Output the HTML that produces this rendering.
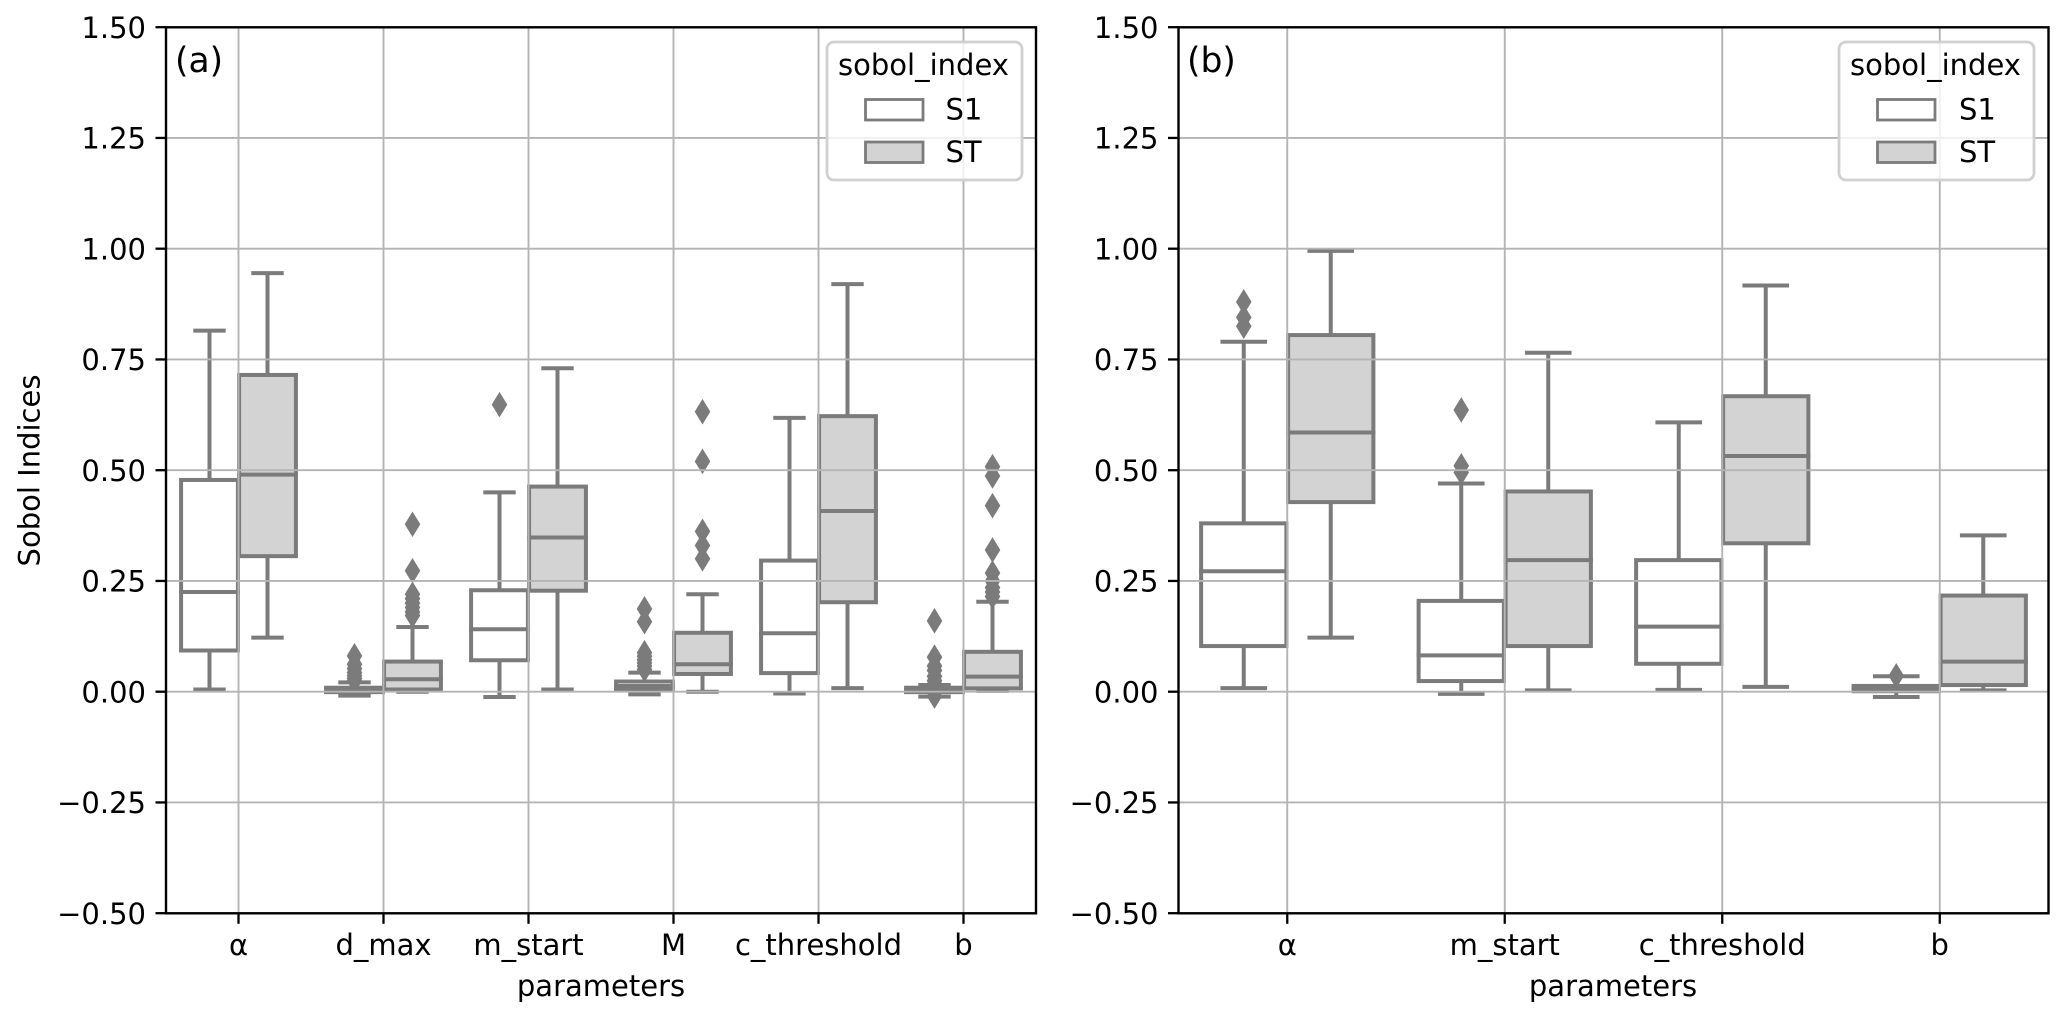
<!DOCTYPE html>
<html lang="en">
<head>
<meta charset="utf-8">
<title>Sobol Indices Box Plots</title>
<style>
html,body{margin:0;padding:0;background:#fff;width:2067px;height:1020px;overflow:hidden}
svg{display:block;font-family:"DejaVu Sans","Liberation Sans",sans-serif;fill:#000}
text{font-size:29px}
</style>
</head>
<body>
<svg id="figure" width="2067" height="1020" viewBox="0 0 2067 1020" xmlns="http://www.w3.org/2000/svg">
  <rect width="2067" height="1020" fill="#fff"/>
  <g id="panel-a"></g>
  <g id="panel-b"></g>

  <text transform="translate(39.5 470.5) rotate(-90)" text-anchor="middle">Sobol Indices</text>
  <text x="601" y="996" text-anchor="middle">parameters</text>
  <text x="1613" y="996" text-anchor="middle">parameters</text>
  <text x="175" y="72" style="font-size:34.5px">(a)</text>
  <text x="1187" y="72" style="font-size:34.5px">(b)</text>

  <g>
    <rect x="827" y="42" width="195" height="138" rx="7" fill="#fff" fill-opacity="0.8" stroke="#d0d0d0" stroke-width="2.8"/>
    <text x="923.5" y="75" text-anchor="middle">sobol_index</text>
    <rect x="865.5" y="99.5" width="57.5" height="20.5" fill="#fff" stroke="#7b7b7b" stroke-width="2.8"/>
    <text x="945.5" y="119.5">S1</text>
    <rect x="865.5" y="142" width="57.5" height="20.5" fill="#d3d3d3" stroke="#7b7b7b" stroke-width="2.8"/>
    <text x="945.5" y="162">ST</text>
  </g>
  <g>
    <rect x="1839" y="42" width="195" height="138" rx="7" fill="#fff" fill-opacity="0.8" stroke="#d0d0d0" stroke-width="2.8"/>
    <text x="1935.5" y="75" text-anchor="middle">sobol_index</text>
    <rect x="1877.5" y="99.5" width="57.5" height="20.5" fill="#fff" stroke="#7b7b7b" stroke-width="2.8"/>
    <text x="1959" y="119.5">S1</text>
    <rect x="1877.5" y="142" width="57.5" height="20.5" fill="#d3d3d3" stroke="#7b7b7b" stroke-width="2.8"/>
    <text x="1959" y="162">ST</text>
  </g>
</svg>

<script>
// Shared y axis
const yTickValues = [-0.5, -0.25, 0, 0.25, 0.5, 0.75, 1, 1.25, 1.5];
const yTickLabels = ["\u22120.50", "\u22120.25", "0.00", "0.25", "0.50", "0.75", "1.00", "1.25", "1.50"];

// Panel (a) data. Box stats are [whisker low, q1, median, q3, whisker high]
const categoriesA = ["\u03b1", "d_max", "m_start", "M", "c_threshold", "b"];
const s1StatsA = [
  [0.005, 0.093, 0.225, 0.478, 0.815],
  [-0.009, -0.001, 0.004, 0.009, 0.021],
  [-0.012, 0.071, 0.141, 0.229, 0.45],
  [-0.006, 0.004, 0.013, 0.023, 0.043],
  [-0.004, 0.042, 0.132, 0.296, 0.618],
  [-0.011, -0.001, 0.004, 0.009, 0.015]
];
const stStatsA = [
  [0.122, 0.306, 0.49, 0.715, 0.945],
  [0, 0.005, 0.028, 0.068, 0.146],
  [0.005, 0.228, 0.348, 0.463, 0.73],
  [0, 0.04, 0.062, 0.133, 0.22],
  [0.008, 0.202, 0.408, 0.622, 0.92],
  [0.002, 0.0075, 0.034, 0.09, 0.203]
];
const s1FliersA = [
  [],
  [0.081, 0.062, 0.052, 0.043, 0.036, 0.03, 0.025],
  [0.648],
  [0.187, 0.158, 0.088, 0.08, 0.072, 0.065, 0.058, 0.05],
  [],
  [0.16, 0.078, 0.058, 0.048, 0.035, 0.025, 0.018, -0.01]
];
const stFliersA = [
  [],
  [0.378, 0.273, 0.22, 0.21, 0.2, 0.19, 0.18, 0.172],
  [],
  [0.632, 0.52, 0.362, 0.33, 0.3],
  [],
  [0.508, 0.487, 0.42, 0.32, 0.268, 0.25, 0.235, 0.225, 0.215]
];

// Panel (b) data
const categoriesB = ["\u03b1", "m_start", "c_threshold", "b"];
const s1StatsB = [
  [0.008, 0.103, 0.272, 0.38, 0.79],
  [-0.005, 0.024, 0.082, 0.205, 0.47],
  [0.004, 0.063, 0.147, 0.297, 0.608],
  [-0.012, 0.001, 0.007, 0.013, 0.035]
];
const stStatsB = [
  [0.122, 0.428, 0.585, 0.805, 0.995],
  [0.003, 0.103, 0.297, 0.452, 0.765],
  [0.011, 0.335, 0.532, 0.667, 0.917],
  [0.003, 0.015, 0.068, 0.217, 0.353]
];
const s1FliersB = [
  [0.88, 0.845, 0.825],
  [0.636, 0.51, 0.495],
  [],
  [0.036]
];
const stFliersB = [[], [], [], []];

const SVG_NS = "http://www.w3.org/2000/svg";
const LINE_GRAY = "#7b7b7b";
const GRID_GRAY = "#b4b4b4";
const Y_ZERO = 691.7;
const Y_PER_UNIT = 443;
const PLOT_TOP = 27.3;
const PLOT_BOTTOM = 913.3;

function yScale(v) {
  return Y_ZERO - Y_PER_UNIT * v;
}

function make(parent, tag, attrs) {
  const node = document.createElementNS(SVG_NS, tag);
  for (const key in attrs) node.setAttribute(key, attrs[key]);
  parent.appendChild(node);
  return node;
}

function drawBox(group, center, step, stats, fliers, fill, seriesName) {
  const low = stats[0], q1 = stats[1], med = stats[2], q3 = stats[3], high = stats[4];
  const boxWidth = step * 0.392;
  const capWidth = step * 0.196;
  const lw = 4;
  const lineStyle = { stroke: LINE_GRAY, "stroke-width": lw, "stroke-linecap": "square", fill: "none" };

  const whiskerLow = make(group, "line", Object.assign({ x1: center, x2: center, y1: yScale(q1), y2: yScale(low) }, lineStyle, { "stroke-linecap": "butt" }));
  
  
  const whiskerHigh = make(group, "line", Object.assign({ x1: center, x2: center, y1: yScale(q3), y2: yScale(high) }, lineStyle, { "stroke-linecap": "butt" }));
  
  
  const capLow = make(group, "line", Object.assign({ x1: center - capWidth / 2, x2: center + capWidth / 2, y1: yScale(low), y2: yScale(low) }, lineStyle));
  
  
  const capHigh = make(group, "line", Object.assign({ x1: center - capWidth / 2, x2: center + capWidth / 2, y1: yScale(high), y2: yScale(high) }, lineStyle));
  
  

  const box = make(group, "rect", {
    x: center - boxWidth / 2,
    y: yScale(q3),
    width: boxWidth,
    height: yScale(q1) - yScale(q3),
    fill: fill,
    stroke: LINE_GRAY,
    "stroke-width": lw
  });
  
  

  const median = make(group, "line", Object.assign({ x1: center - boxWidth / 2, x2: center + boxWidth / 2, y1: yScale(med), y2: yScale(med) }, lineStyle));
  
  

  fliers.forEach(function (v) {
    const y = yScale(v);
    const diamond = make(group, "path", {
      d: "M" + center + " " + (y - 12.8) + "L" + (center + 7.8) + " " + y + "L" + center + " " + (y + 12.8) + "L" + (center - 7.8) + " " + y + "Z",
      fill: LINE_GRAY
    });
    
    
  });
}

function drawPanel(group, left, right, categories, s1Stats, stStats, s1Fliers, stFliers) {
  const step = (right - left) / categories.length;
  const xScale = function (i) { return left + step * (i + 0.5); };

  const marks = make(group, "g", {});
  
  
  categories.forEach(function (cat, i) {
    const slug = cat === "\u03b1" ? "alpha" : cat.toLowerCase().replace("_", "-") + (cat === "M" ? "-upper" : "");
    drawBox(marks, xScale(i) - step * 0.2, step, s1Stats[i], s1Fliers[i], "#fff", slug + "-s1");
    drawBox(marks, xScale(i) + step * 0.2, step, stStats[i], stFliers[i], "#d3d3d3", slug + "-st");
  });

  const grid = make(group, "g", { stroke: GRID_GRAY, "stroke-width": 1.9 });
  
  
  yTickValues.forEach(function (v) {
    const h = make(grid, "line", { x1: left, x2: right, y1: yScale(v), y2: yScale(v) });
    
    
  });
  categories.forEach(function (cat, i) {
    const g = make(grid, "line", { x1: xScale(i), x2: xScale(i), y1: PLOT_TOP, y2: PLOT_BOTTOM });
    
    
  });

  const frame = make(group, "rect", { x: left, y: PLOT_TOP, width: right - left, height: PLOT_BOTTOM - PLOT_TOP, fill: "none", stroke: "#000", "stroke-width": 2.4 });
  
  

  yTickValues.forEach(function (v, i) {
    const y = yScale(v);
    const t = make(group, "line", { x1: left - 10.5, x2: left, y1: y, y2: y, stroke: "#000", "stroke-width": 2.3 });
    
    
    const label = make(group, "text", { x: left - 20, y: y + 10.6, "text-anchor": "end" });
    label.textContent = yTickLabels[i];
    
    
  });
  categories.forEach(function (cat, i) {
    const x = xScale(i);
    const t = make(group, "line", { x1: x, x2: x, y1: PLOT_BOTTOM, y2: PLOT_BOTTOM + 10.5, stroke: "#000", "stroke-width": 2.3 });
    
    
    const label = make(group, "text", { x: x, y: 955, "text-anchor": "middle" });
    label.textContent = cat;
    
    
  });
}

drawPanel(document.getElementById("panel-a"), 166, 1036, categoriesA, s1StatsA, stStatsA, s1FliersA, stFliersA);
drawPanel(document.getElementById("panel-b"), 1178.5, 2048.5, categoriesB, s1StatsB, stStatsB, s1FliersB, stFliersB);
</script>
</body>
</html>
